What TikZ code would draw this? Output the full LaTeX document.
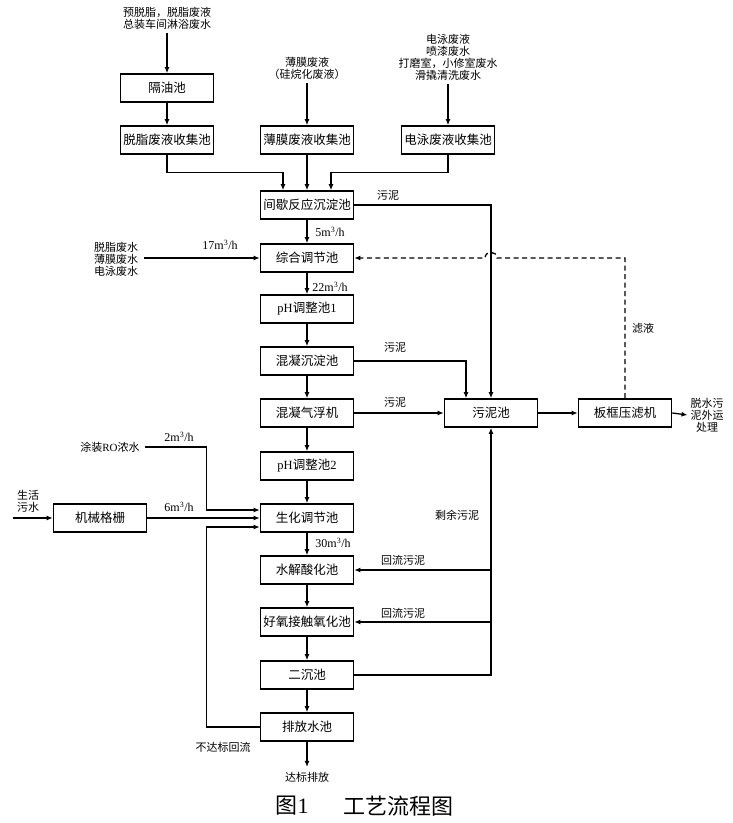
\documentclass[tikz,border=0pt]{standalone}
\usepackage{fontspec}
\setmainfont{Liberation Serif}
\newfontfamily\cjk{Noto Sans CJK SC}
\usetikzlibrary{arrows.meta}

\tikzset{
	pool/.style={draw, line width=1.6pt, minimum width=93pt, minimum height=28pt, inner sep=0pt, font=\cjk\fontsize{12.5}{13}\selectfont},
	flow/.style={line width=1.3pt, -{Latex[length=6pt,width=5pt]}},
	lbl/.style={align=center, inner sep=0pt, font=\cjk\fontsize{11}{12}\selectfont},
	rate/.style={inner sep=0pt, font=\fontsize{12}{12}\selectfont},
}

\begin{document}
\begin{tikzpicture}[x=1pt,y=-1pt]
	\useasboundingbox (0,0) rectangle (733,823);

	% pools
	\foreach \n/\y/\t in {jianxie/205/间歇反应沉淀池, zonghe/258/综合调节池, ph1/309/{{\rmfamily pH}调整池{\rmfamily 1}},
		hunning/361/混凝沉淀池, qifu/413/混凝气浮机, ph2/466/{{\rmfamily pH}调整池{\rmfamily 2}}, shenghua/518/生化调节池,
		shuijie/570/水解酸化池, haoyang/622/好氧接触氧化池, erchen/675/二沉池, paifang/727/排放水池} {
		\node[pool] (\n) at (307,\y) {\t};
	}
	\node[pool] (geyou) at (167,88) {隔油池};
	\node[pool] (tuozhi) at (167,140) {脱脂废液收集池};
	\node[pool] (baomo) at (307,140) {薄膜废液收集池};
	\node[pool] (dianyong) at (448,140) {电泳废液收集池};
	\node[pool] (geshan) at (100,518) {机械格栅};
	\node[pool] (wuni) at (491,413) {污泥池};
	\node[pool] (yalv) at (625,413) {板框压滤机};

	% sources and outlets
	\node[lbl, outer sep=4pt] (src1) at (167,18) {预脱脂，脱脂废液\\总装车间淋浴废水};
	\node[lbl, outer sep=4pt] (src2) at (307,68) {薄膜废液\\（硅烷化废液）};
	\node[lbl, outer sep=4pt] (src3) at (448,57) {电泳废液\\喷漆废水\\打磨室，小修室废水\\滑撬清洗废水};
	\node[lbl, outer sep=6pt] (src4) at (116,259) {脱脂废水\\薄膜废水\\电泳废水};
	\node[lbl, outer sep=5pt] (ro) at (110,447) {涂装{\rmfamily RO}浓水};
	\node[lbl] (life) at (28,501) {生活\\污水};
	\node[lbl, outer sep=3pt] (cake) at (707,415) {脱水污\\泥外运\\处理};
	\node[lbl, outer sep=5pt] (pass) at (307,777) {达标排放};

	\draw[flow] (src1) to (geyou);
	\draw[flow] (geyou) to (tuozhi);
	\draw[flow] (src2) to (baomo);
	\draw[flow] (src3) to (dianyong);
	\draw[flow] (tuozhi.south) -- ++(0,18) -| ([xshift=-24pt]jianxie.north);
	\draw[flow] (baomo) to (jianxie);
	\draw[flow] (dianyong.south) -- ++(0,18) -| ([xshift=24pt]jianxie.north);

	\foreach \a/\b in {jianxie/zonghe, zonghe/ph1, ph1/hunning, hunning/qifu, qifu/ph2, ph2/shenghua,
		shenghua/shuijie, shuijie/haoyang, haoyang/erchen, erchen/paifang} {
		\draw[flow] (\a) to (\b);
	}
	\draw[flow] (paifang) to (pass);

	\draw[flow] (src4.east |- zonghe) to (zonghe.west);
	\draw[flow] (ro.east) -| ([xshift=-53pt,yshift=8pt]shenghua.west) -- ([yshift=8pt]shenghua.west);
	\draw[flow] ([xshift=-40pt]geshan.west) to (geshan.west);
	\draw[flow] (geshan.east) to (shenghua.west);
	\draw[flow] (paifang.west) -| ([xshift=-53pt,yshift=-9pt]shenghua.west) -- ([yshift=-9pt]shenghua.west);

	% sludge
	\draw[flow] (jianxie.east) -| (wuni.north);
	\draw[flow] (hunning.east) -| ([xshift=-25pt]wuni.north);
	\draw[flow] (qifu.east) to (wuni.west);
	\draw[flow] (erchen.east) -| (wuni.south);
	\draw[flow] (shuijie.east -| wuni.south) to (shuijie.east);
	\draw[flow] (haoyang.east -| wuni.south) to (haoyang.east);
	\draw[flow] (wuni) to (yalv);
	\draw[flow] (yalv.east) to (cake.west);

	% filtrate
	\coordinate (hop) at (wuni.north |- zonghe.east);
	\draw[flow, dash pattern=on 5pt off 3.5pt] (yalv.north) |- ([xshift=6pt]hop)
		to[out=90,in=90,looseness=1.6] ([xshift=-6pt]hop) -- (zonghe.east);

	% labels
	\node[lbl] (l1) at (388,195) {污泥};
	\node[lbl] (l2) at (395,347) {污泥};
	\node[lbl] (l3) at (395,402) {污泥};
	\node[lbl] (l4) at (643,328) {滤液};
	\node[lbl] (l5) at (457,515) {剩余污泥};
	\node[lbl] (l6) at (403,560) {回流污泥};
	\node[lbl] (l7) at (403,613) {回流污泥};
	\node[lbl] (l8) at (223,747) {不达标回流};
	\node[rate] (r1) at (330,232) {5m\textsuperscript{3}/h};
	\node[rate] (r2) at (220,245) {17m\textsuperscript{3}/h};
	\node[rate] (r3) at (330,287) {22m\textsuperscript{3}/h};
	\node[rate] (r4) at (179,437) {2m\textsuperscript{3}/h};
	\node[rate] (r5) at (179,507) {6m\textsuperscript{3}/h};
	\node[rate] (r6) at (333,543) {30m\textsuperscript{3}/h};

	\node[inner sep=0pt, font=\fontsize{22}{24}\selectfont] (fig) at (292,806) {{\cjk 图}1};
	\node[inner sep=0pt, font=\cjk\fontsize{22}{24}\selectfont] (title) at (398,806) {工艺流程图};
\end{tikzpicture}
\end{document}
